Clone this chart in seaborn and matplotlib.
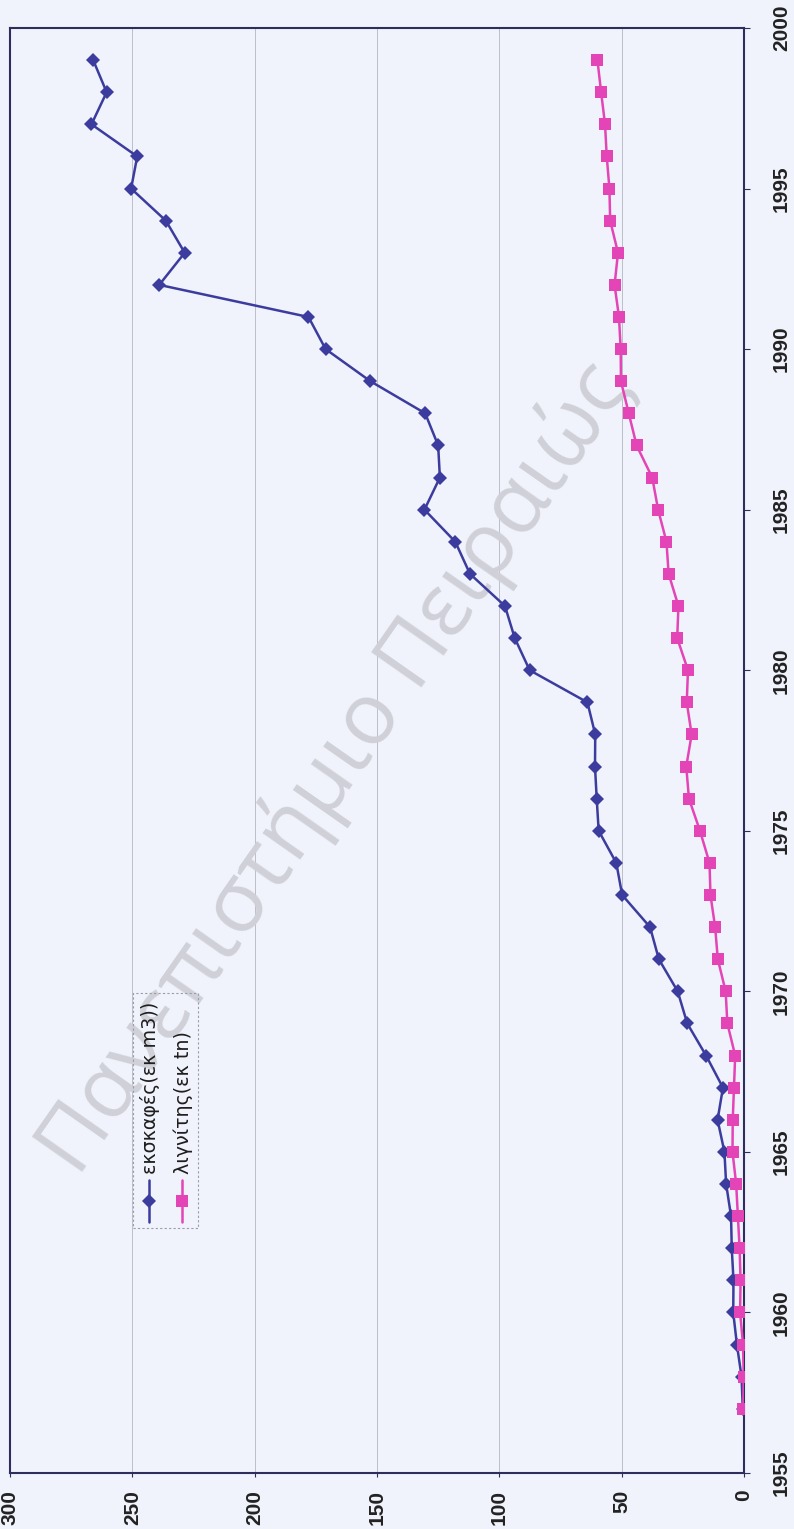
import matplotlib
matplotlib.use("Agg")
import matplotlib.pyplot as plt
from matplotlib.lines import Line2D
from matplotlib.patches import Rectangle
import seaborn as sns

# Annual series, 1957-1999
years = list(range(1957, 2000))
dredging = [0.5, 1, 2.9, 4.4, 4.3, 5, 5.3, 7.3, 8, 10.8, 8.6, 15.5, 23.2, 27.1,
            34.8, 38.4, 49.8, 52.2, 59.4, 60.2, 60.9, 60.8, 64, 87.6, 93.7, 97.7,
            112, 118, 130.6, 124.3, 125, 130.3, 152.7, 171, 178, 239, 228.6,
            236.3, 250.5, 248, 266.7, 260.5, 266]
lignite = [0.3, 0.1, 0.4, 1.6, 1.4, 1.8, 2.5, 3.2, 4.7, 4.6, 4.1, 3.6, 6.8, 7.5,
           10.7, 11.8, 13.7, 14.1, 18, 22.5, 23.6, 21.4, 23.4, 22.9, 27.3, 26.8,
           30.8, 31.7, 35.1, 37.5, 43.9, 47.1, 50.3, 50.4, 51.1, 52.9, 51.5,
           54.7, 55, 56.1, 56.8, 58.4, 59.9]
series_labels = ["εκσκαφές(εκ m3))", "λιγνίτης(εκ tn)"]
value_ticks = [0, 50, 100, 150, 200, 250, 300]
year_ticks = [1955, 1960, 1965, 1970, 1975, 1980, 1985, 1990, 1995, 2000]
watermark = "Πανεπιστήμιο Πειραιώς"

BLUE = "#3c3c9e"
PINK = "#e445b6"
BG = "#f0f3fb"
FRAME = "#2e2e5c"

W, H = 794, 1529
sns.set_theme(style="white")
plt.rcParams["font.family"] = ["Liberation Sans", "DejaVu Sans"]

fig = plt.figure(figsize=(W / 100, H / 100), dpi=100, facecolor=BG)


def fx(px):
    return px / W


def fy(py):
    return 1 - py / H


left, right, top, bottom = 10, 744, 28, 1473
ax = fig.add_axes([fx(left), fy(bottom), fx(right) - fx(left), fy(top) - fy(bottom)])
ax.set_facecolor(BG)

sns.lineplot(x=dredging, y=years, orient="y", ax=ax, color=BLUE, lw=1.8,
             marker="D", markersize=7.2, markeredgewidth=0, zorder=3)
sns.lineplot(x=lignite, y=years, orient="y", ax=ax, color=PINK, lw=1.8,
             marker="s", markersize=8.2, markeredgewidth=0, zorder=4)

ax.set_xlim(300, 0)
ax.set_ylim(1955, 2000)
ax.set_xticks(value_ticks)
ax.set_yticks(year_ticks)
ax.set_xlabel("")
ax.set_ylabel("")
ax.yaxis.tick_right()

ax.xaxis.grid(True, color="#b4b5c0", lw=0.6)
ax.yaxis.grid(False)
for s in ax.spines.values():
    s.set_color(FRAME)
    s.set_linewidth(1.5)

ax.tick_params(axis="x", bottom=True, length=3, width=0.8, color=FRAME, pad=9,
               labelsize=15, labelcolor="#222222")
ax.tick_params(axis="y", right=True, left=False, length=4, width=0.8, color=FRAME,
               pad=16, labelsize=15, labelcolor="#222222")
for t in ax.get_xticklabels():
    t.set_rotation(90)
    t.set_ha("center")
    t.set_va("top")
    t.set_fontweight("bold")
for t in ax.get_yticklabels():
    t.set_rotation(90)
    t.set_va("center")
    t.set_ha("left")
    t.set_fontweight("bold")

# watermark across the plot, under the data lines
ax.text(fx(335), fy(768), watermark, transform=fig.transFigure, rotation=55,
        ha="center", va="center", fontsize=62, family="Open Sans",
        color="#cfd0d8", zorder=1.5)

# legend, laid out vertically to match the rotated page
fig.add_artist(Rectangle((fx(133), fy(1228)), fx(198) - fx(133), fy(993) - fy(1228),
                         transform=fig.transFigure, fill=False,
                         edgecolor="#9b9ca8", lw=0.8, ls=(0, (2, 2))))
for xc, col, mk, ms, lab in [(149, BLUE, "D", 7.2, series_labels[0]),
                             (182, PINK, "s", 8.2, series_labels[1])]:
    fig.add_artist(Line2D([fx(xc)] * 3, [fy(1222), fy(1201), fy(1180)],
                          transform=fig.transFigure, color=col, lw=1.8,
                          marker=mk, markersize=ms, markeredgewidth=0,
                          markevery=[1]))
    fig.text(fx(xc + 1), fy(1174), lab, rotation=90, ha="center", va="bottom",
             fontsize=13.8, family="DejaVu Sans", color="#1e1e1e")

fig.savefig("out.png", dpi=100, facecolor=BG)
